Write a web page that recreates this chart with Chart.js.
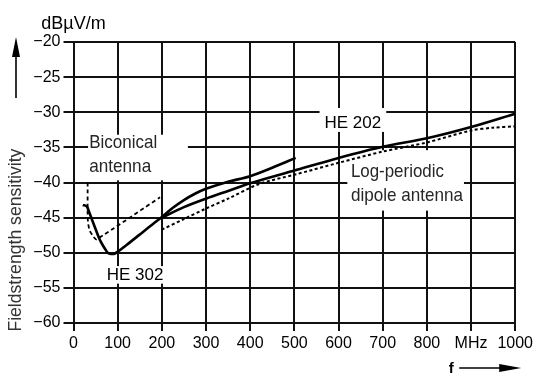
<!DOCTYPE html>
<html>
<head>
<meta charset="utf-8">
<script src="https://cdn.jsdelivr.net/npm/chart.js@4.4.1/dist/chart.umd.min.js"></script>
<style>
  html, body { margin: 0; padding: 0; background: #fff; }
  #wrap { width: 536px; height: 374px; }
</style>
</head>
<body>
<div id="wrap"><canvas id="chart"></canvas></div>
<script>
// values (MHz / dBuV/m)
const he302X = [21, 30, 36, 45, 60, 75, 80, 94, 120, 158, 180, 200, 225, 250, 275, 300, 350, 400, 450, 503];
const he302Y = [-43.2, -43.4, -44.3, -45.8, -48.2, -49.8, -50.1, -50.1, -48.9, -47.0, -45.9, -44.9, -43.6, -42.5, -41.6, -40.9, -39.9, -39.1, -37.9, -36.5];

const he202X = [200, 250, 300, 350, 400, 500, 600, 700, 800, 900, 1000];
const he202Y = [-45.0, -43.5, -42.3, -41.2, -40.1, -38.3, -36.5, -34.9, -33.7, -32.1, -30.2];

const biconX = [32, 32, 33, 37, 45, 52, 196];
const biconY = [-40.0, -44.6, -45.8, -46.9, -47.7, -48.1, -42.1];

const logperX = [200, 250, 300, 350, 421, 500, 600, 700, 800, 900, 950, 1000];
const logperY = [-46.7, -45.2, -43.7, -42.3, -40.2, -38.9, -37.2, -35.6, -34.3, -32.6, -32.2, -32.0];

const xTickLabels = ['0', '100', '200', '300', '400', '500', '600', '700', '800', 'MHz', '1000'];

// annotation texts, anchored in data units
const notes = [
  { lines: ['Biconical', 'antenna'], widths: [68, 62], x: 35.5, y: -35.1, box: [33, -33.2, 259, -39.7], light: true },
  { lines: ['Log-periodic', 'dipole antenna'], widths: [93, 112], x: 628, y: -39.2, box: [620, -35.4, 884, -44.0], light: true },
  { lines: ['HE 202'], widths: [57], x: 568, y: -32.2, box: [557, -29.4, 708, -32.8], light: false },
  { lines: ['HE 302'], widths: [60], x: 75, y: -53.85, box: [69, -51.9, 216, -54.4], light: false }
];

const plainFont = 'Arial, "Liberation Sans", sans-serif';

function pts(xs, ys) {
  return xs.map(function (x, i) { return { x: x, y: ys[i] }; });
}

const decor = {
  id: 'decor',
  beforeDatasetsDraw(chart) {
    const c = chart.ctx, xs = chart.scales.x, ys = chart.scales.y;
    c.save();
    c.fillStyle = '#fff';
    notes.forEach(function (n) {
      const x0 = xs.getPixelForValue(n.box[0]), y0 = ys.getPixelForValue(n.box[1]);
      const x1 = xs.getPixelForValue(n.box[2]), y1 = ys.getPixelForValue(n.box[3]);
      c.fillRect(x0, y0, x1 - x0, y1 - y0);
    });
    c.restore();
  },
  afterDraw(chart) {
    const c = chart.ctx, xs = chart.scales.x, ys = chart.scales.y, a = chart.chartArea;
    c.save();
    c.textBaseline = 'alphabetic';
    notes.forEach(function (n) {
      c.font = n.light ? '18.5px ' + plainFont : '17px ' + plainFont;
      c.fillStyle = n.light ? '#262626' : '#000';
      c.textAlign = 'left';
      const px = xs.getPixelForValue(n.x), py = ys.getPixelForValue(n.y);
      n.lines.forEach(function (t, i) { c.fillText(t, px, py + i * 24, n.widths[i]); });
    });

    // unit above the y axis
    c.fillStyle = '#000';
    c.font = '18px ' + plainFont;
    c.textAlign = 'center';
    c.fillText('dB\u00b5V/m', a.left, a.top - 13, 67);

    // y axis title
    c.save();
    c.translate(a.left - 60, ys.getPixelForValue(-48.2));
    c.rotate(-Math.PI / 2);
    c.font = '18px ' + plainFont;
    c.fillStyle = '#333';
    c.textAlign = 'center';
    c.fillText('Fieldstrength sensitivity', 0, 7, 183);
    c.restore();

    // arrows
    c.strokeStyle = '#000';
    c.fillStyle = '#000';
    c.lineWidth = 1.6;
    const ax = a.left - 57.5;
    c.beginPath(); c.moveTo(ax, a.top + 56); c.lineTo(ax, a.top + 10); c.stroke();
    c.beginPath(); c.moveTo(ax, a.top - 5); c.lineTo(ax - 4, a.top + 15); c.lineTo(ax + 4, a.top + 15); c.closePath(); c.fill();

    const fy = a.bottom + 45;
    c.font = 'bold 15px ' + plainFont;
    c.textAlign = 'center';
    c.fillText('f', a.right - 64, fy + 5);
    c.beginPath(); c.moveTo(a.right - 56, fy); c.lineTo(a.right - 10, fy); c.stroke();
    c.beginPath(); c.moveTo(a.right + 6, fy); c.lineTo(a.right - 16, fy - 4); c.lineTo(a.right - 16, fy + 4); c.closePath(); c.fill();
    c.restore();
  }
};

function draw() {
  const ctx = document.getElementById('chart');
  new Chart(ctx, {
    type: 'scatter',
    data: {
      datasets: [
        { label: 'HE 302', data: pts(he302X, he302Y), borderColor: '#000', borderWidth: 2.6, tension: 0.3 },
        { label: 'HE 202', data: pts(he202X, he202Y), borderColor: '#000', borderWidth: 2.6, tension: 0.3 },
        { label: 'Biconical antenna', data: pts(biconX, biconY), borderColor: '#000', borderWidth: 1.8, borderDash: [4, 3], tension: 0.2 },
        { label: 'Log-periodic dipole antenna', data: pts(logperX, logperY), borderColor: '#000', borderWidth: 2, borderDash: [3, 2.5], tension: 0.3 }
      ]
    },
    options: {
      responsive: true,
      maintainAspectRatio: false,
      animation: false,
      showLine: true,
      elements: { point: { radius: 0 } },
      layout: { padding: { top: 42, right: 20, left: 0, bottom: 0 } },
      plugins: { legend: { display: false }, tooltip: { enabled: false } },
      scales: {
        x: {
          type: 'linear', min: 0, max: 1000,
          afterFit: function (s) { s.height = 51; },
          ticks: {
            stepSize: 100, color: '#000', padding: 3, maxRotation: 0, autoSkip: false,
            font: { family: plainFont, size: 16 },
            callback: function (v) { return xTickLabels[Math.round(v / 100)]; }
          },
          grid: { color: '#111', lineWidth: 2, tickLength: 8 },
          border: { display: true, color: '#111', width: 2 }
        },
        y: {
          type: 'linear', min: -60, max: -20,
          afterFit: function (s) { s.width = 73.5; },
          ticks: {
            stepSize: 5, color: '#000', padding: 3,
            font: { family: plainFont, size: 16 },
            callback: function (v) { return String(v).replace('-', '\u2212'); }
          },
          grid: { color: '#111', lineWidth: 2, tickLength: 10 },
          border: { display: true, color: '#111', width: 2 }
        }
      }
    },
    plugins: [decor]
  });
}

document.fonts.load('16px Arial').then(draw, draw);
</script>
</body>
</html>
